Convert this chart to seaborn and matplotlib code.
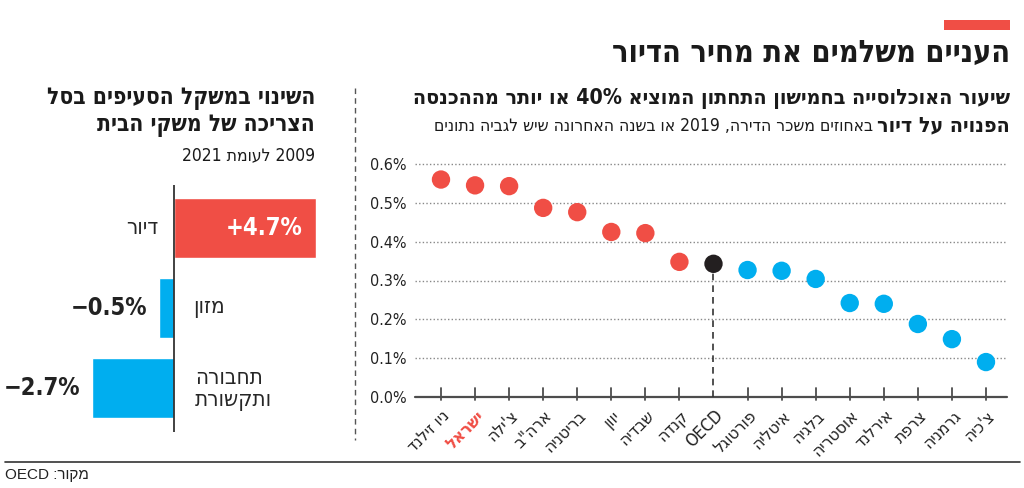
import matplotlib
matplotlib.use("Agg")
import matplotlib.pyplot as plt
import matplotlib.patches as mpatches
import matplotlib.lines as mlines
import seaborn as sns
import pandas as pd

# ---------------- data ----------------
countries = ["ניו זילנד", "ישראל", "צ'ילה", 'ארה"ב', "בריטניה", "יוון", "שבדיה",
             "קנדה", "OECD", "פורטוגל", "איטליה", "בלגיה", "אוסטריה", "אירלנד",
             "צרפת", "גרמניה", "צ'כיה"]
share = [0.56, 0.545, 0.543, 0.487, 0.476, 0.425, 0.422,
         0.348, 0.343, 0.327, 0.325, 0.304, 0.242, 0.240,
         0.188, 0.149, 0.090]
groups = ["high"] * 8 + ["oecd"] + ["low"] * 8
yticks = [0.0, 0.1, 0.2, 0.3, 0.4, 0.5, 0.6]
ytick_labels = ["0.0%", "0.1%", "0.2%", "0.3%", "0.4%", "0.5%", "0.6%"]

basket_items = ["דיור", "מזון", "תחבורה\nותקשורת"]
basket_change = [4.7, -0.5, -2.7]
basket_labels = ["+4.7%", "−0.5%", "−2.7%"]

RED = "#F04E45"
BLUE = "#00AEEF"
BLACK = "#231F20"
GRAY = "#4D4D4D"

W, H = 1024, 488
FONT = ["DejaVu Sans"]


def is_heb(w):
    return any("\u0590" <= c <= "\u05FF" for c in w)


def rtl(s):
    lines = []
    for line in s.split("\n"):
        words = line.split(" ")
        out = [w[::-1] if is_heb(w) else w for w in words[::-1]]
        lines.append(" ".join(out))
    return "\n".join(lines)


sns.set_theme(style="white")
plt.rcParams["font.family"] = FONT
plt.rcParams["font.stretch"] = "condensed"
plt.rcParams["axes.unicode_minus"] = True

fig = plt.figure(figsize=(W / 100, H / 100), dpi=100)


def fx(px):
    return px / W


def fy(py):
    return 1 - py / H


# ---------------- right panel: dot chart ----------------
axR = fig.add_axes([fx(415), fy(397), fx(1007 - 415), (397 - 164) / H])
df = pd.DataFrame({"country": countries, "share": share, "group": groups})
df["pos"] = range(len(df))
sns.scatterplot(data=df, x="pos", y="share", hue="group",
                palette={"high": RED, "oecd": BLACK, "low": BLUE},
                s=175, linewidth=0, legend=False, ax=axR, zorder=5)
axR.set_xlim(-0.763, 16.617)
axR.set_ylim(0, 0.6)
for s in axR.spines.values():
    s.set_visible(False)
for yv in yticks[1:]:
    axR.axhline(yv, color="#888888", lw=1.0, ls=(0, (1, 1.6)), clip_on=False, zorder=1)
axR.axhline(0, color=GRAY, lw=1.6, clip_on=False, zorder=2)
axR.set_yticks(yticks)
axR.set_yticklabels(ytick_labels)
axR.tick_params(axis="y", length=0, pad=6, labelsize=11.5, labelcolor="#222222")
oecd_idx = countries.index("OECD")
tick_pos = [i for i in range(len(countries)) if i != oecd_idx]
for i in tick_pos:
    axR.plot([i, i], [-0.008, 0.024], color=GRAY, lw=1.3, clip_on=False, zorder=3)
axR.plot([oecd_idx, oecd_idx], [0, share[oecd_idx]], color="#333333", lw=1.2,
         ls=(0, (4, 3)), zorder=3)
axR.set_xticks(range(len(countries)))
axR.set_xticklabels([rtl(c) for c in countries], rotation=45, ha="right",
                    rotation_mode="anchor")
axR.tick_params(axis="x", length=0, pad=7, labelsize=12.5, labelcolor="#222222")
for lbl, c in zip(axR.get_xticklabels(), countries):
    if c == "ישראל":
        lbl.set_color(RED)
        lbl.set_fontweight("bold")
axR.set_xlabel("")
axR.set_ylabel("")

# ---------------- left panel: bars ----------------
axL = fig.add_axes([fx(10), fy(432), fx(330 - 10), (432 - 185) / H])
bdf = pd.DataFrame({"item": basket_items, "change": basket_change})
sns.barplot(data=bdf, x="change", y="item", hue="item", orient="h",
            palette=[RED, BLUE, BLUE], width=0.75, legend=False, ax=axL,
            saturation=1)
axL.set_xlim(-(174 - 10) / 30.2, (330 - 174) / 30.2)
axL.set_ylim(2.55, -0.5375)
axL.axis("off")
axL.axvline(0, color="#333333", lw=1.3)
# category labels
axL.text(-0.5, 0, rtl(basket_items[0]), ha="right", va="center", fontsize=16)
axL.text(0.63, 1, rtl(basket_items[1]), ha="left", va="center", fontsize=16)
axL.text(0.7, 2.02, rtl(basket_items[2]), ha="left", va="center", fontsize=16,
         multialignment="left", linespacing=1.1)
# value labels
axL.text(4.27, 0, basket_labels[0], ha="right", va="center", fontsize=17,
         fontweight="bold", color="white")
axL.text(-0.9, 1, basket_labels[1], ha="right", va="center", fontsize=17,
         fontweight="bold", color="#222222")
axL.text(-3.1, 2, basket_labels[2], ha="right", va="center", fontsize=17,
         fontweight="bold", color="#222222")

# ---------------- titles ----------------
fig.add_artist(mpatches.Rectangle((fx(944), fy(30)), fx(1010 - 944), 10 / H,
                                  color=RED, lw=0))
fig.text(fx(1010), fy(62), rtl("העניים משלמים את מחיר הדיור"), ha="right",
         va="baseline", fontsize=22, fontweight="bold", color="#1a1a1a")

fig.text(fx(1010), fy(104), rtl("שיעור האוכלוסייה בחמישון התחתון המוציא 40% או יותר מההכנסה"),
         ha="right", va="baseline", fontsize=15.3, fontweight="bold", color="#1a1a1a")
tb = fig.text(fx(1010), fy(131), rtl("הפנויה על דיור"), ha="right", va="baseline",
              fontsize=15.3, fontweight="bold", color="#1a1a1a")
axR.annotate(rtl("באחוזים משכר הדירה, 2019 או בשנה האחרונה שיש לגביה נתונים"),
             xy=(0, 0), xycoords=tb, xytext=(-3, 0), textcoords="offset points",
             ha="right", va="bottom", fontsize=12.5, color="#1a1a1a",
             annotation_clip=False)

fig.text(fx(315), fy(104), rtl("השינוי במשקל הסעיפים בסל"), ha="right",
         va="baseline", fontsize=16.3, fontweight="bold", color="#1a1a1a")
fig.text(fx(315), fy(131), rtl("הצריכה של משקי הבית"), ha="right",
         va="baseline", fontsize=16.3, fontweight="bold", color="#1a1a1a")
fig.text(fx(315), fy(160), rtl("2009 לעומת 2021"), ha="right",
         va="baseline", fontsize=12.5, color="#1a1a1a")

# separator and footer
fig.add_artist(mlines.Line2D([fx(355), fx(355)], [fy(88), fy(440)], color="#555555",
                             lw=1.0, ls=(0, (4, 3))))
fig.add_artist(mlines.Line2D([fx(5), fx(1020)], [fy(462), fy(462)], color="#333333",
                             lw=1.2))
fig.text(fx(5), fy(479), rtl("מקור: OECD"), ha="left", va="baseline",
         fontsize=11, color="#222222", family=["Liberation Sans", "DejaVu Sans"])

fig.savefig("out.png", dpi=100)
